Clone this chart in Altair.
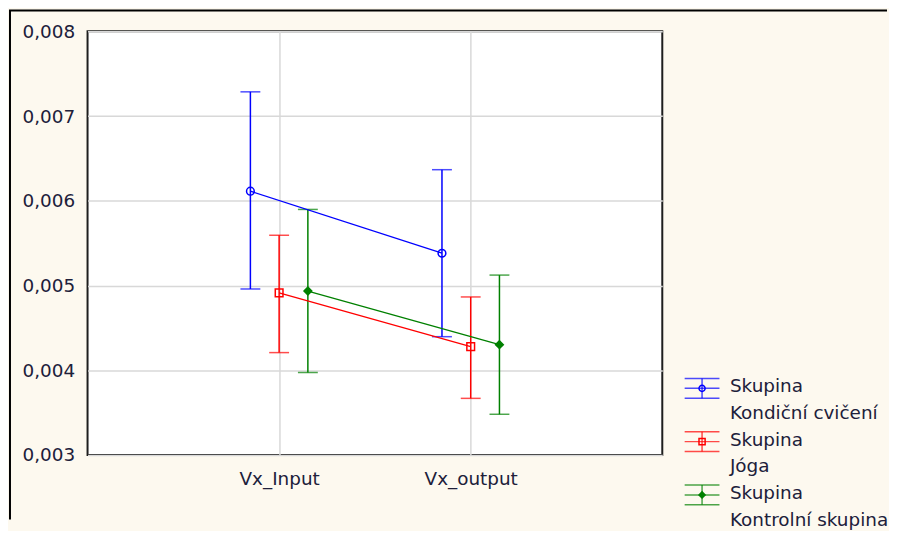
import altair as alt
import pandas as pd

# ---------------- data ----------------
categories = ["Vx_Input", "Vx_output"]
groups = ["Kondiční cvičení", "Jóga", "Kontrolní skupina"]
group_prefix = "Skupina"

mean_kond = [0.006113, 0.005381]
mean_joga = [0.004912, 0.004278]
mean_kontr = [0.004935, 0.004302]

low_kond = [0.004959, 0.004396]
low_joga = [0.004208, 0.003668]
low_kontr = [0.003973, 0.003480]

high_kond = [0.007286, 0.006367]
high_joga = [0.005593, 0.004865]
high_kontr = [0.005898, 0.005123]

y_ticks = [0.003, 0.004, 0.005, 0.006, 0.007, 0.008]

# ---------------- styles ----------------
colors = ["#0000ff", "#ff0000", "#008000"]
shapes = ["circle", "square", "diamond"]
fills = ["transparent", "transparent", "#008000"]
FONT = "DejaVu Sans"
TXT = "#20203a"
BG = "#fdf9ef"
W, H = 578, 426
GROUP_SHIFT = 0.15

means = [mean_kond, mean_joga, mean_kontr]
lows = [low_kond, low_joga, low_kontr]
highs = [high_kond, high_joga, high_kontr]

rows = []
for gi, g in enumerate(groups):
    for ci, c in enumerate(categories):
        rows.append({
            "group": g,
            "category": c,
            "xpos": (ci + 1) + (gi - 1) * GROUP_SHIFT,
            "mean": means[gi][ci],
            "low": lows[gi][ci],
            "high": highs[gi][ci],
        })
df = pd.DataFrame(rows)

label_expr = " : ".join(
    [f"datum.value == {i + 1} ? '{c}'" for i, c in enumerate(categories)]
) + " : ''"

xscale = alt.Scale(domain=[0, len(categories) + 1], nice=False, zero=False)
yscale = alt.Scale(domain=[y_ticks[0], y_ticks[-1]], nice=False, zero=False)
cscale = alt.Scale(domain=groups, range=colors)
sscale = alt.Scale(domain=groups, range=shapes)
fscale = alt.Scale(domain=groups, range=fills)

xaxis = alt.Axis(values=[i + 1 for i in range(len(categories))], labelExpr=label_expr,
                 title=None, grid=True, ticks=False, domain=False, labelPadding=15,
                 labelFontSize=18.5, labelFont=FONT, labelColor=TXT)
yaxis = alt.Axis(values=y_ticks, labelExpr="replace(format(datum.value, '.3f'), '.', ',')",
                 title=None, grid=True, ticks=False, domain=False, labelPadding=13,
                 labelFontSize=18.5, labelFont=FONT, labelColor=TXT, labelOverlap=False,
                 labelFlush=False)

base = alt.Chart(df).encode(
    x=alt.X("xpos:Q", scale=xscale, axis=xaxis),
    color=alt.Color("group:N", scale=cscale, legend=None),
)

stems = base.mark_rule(strokeWidth=1.5).encode(
    y=alt.Y("low:Q", scale=yscale, axis=yaxis), y2="high:Q")
caps_hi = base.mark_tick(orient="horizontal", size=20, thickness=1.5).encode(
    y=alt.Y("high:Q", scale=yscale))
caps_lo = base.mark_tick(orient="horizontal", size=20, thickness=1.5).encode(
    y=alt.Y("low:Q", scale=yscale))
lines = base.mark_line(strokeWidth=1.3).encode(
    y=alt.Y("mean:Q", scale=yscale), detail="group:N", order="xpos:Q")
points = base.mark_point(size=60, strokeWidth=1.5, opacity=1).encode(
    y=alt.Y("mean:Q", scale=yscale),
    shape=alt.Shape("group:N", scale=sscale, legend=None),
    fill=alt.Fill("group:N", scale=fscale, legend=None),
)

dummy = pd.DataFrame({"k": [0]})
LW = 226
border_left = alt.Chart(dummy).mark_rule(color="black", strokeWidth=2).encode(
    x=alt.value(-78), y=alt.value(-21), y2=alt.value(491))
border_top = alt.Chart(dummy).mark_rule(color="black", strokeWidth=2).encode(
    x=alt.value(-79), x2=alt.value(W + LW), y=alt.value(-21))

plot = alt.layer(border_left, border_top, stems, caps_hi, caps_lo, lines, points)

# ---------------- legend (drawn beside the plot area) ----------------
leg_text_rows = []
leg_sym_rows = []
for gi, g in enumerate(groups):
    leg_text_rows.append({"line": 2 * gi, "text": group_prefix})
    leg_text_rows.append({"line": 2 * gi + 1, "text": g})
    leg_sym_rows.append({"line": 2 * gi, "group": g})
leg_text = pd.DataFrame(leg_text_rows)
leg_sym = pd.DataFrame(leg_sym_rows)

lscale = alt.Scale(type="point", domain=list(range(2 * len(groups))), range=[357, 491], padding=0)
SX = W + 40

ltext = alt.Chart(leg_text).mark_text(align="left", baseline="middle", fontSize=18.5,
                                      font=FONT, color=TXT).encode(
    x=alt.value(W + 68), y=alt.Y("line:O", scale=lscale, axis=None), text="text:N")

lsym_base = alt.Chart(leg_sym).encode(
    x=alt.value(SX),
    y=alt.Y("line:O", scale=lscale, axis=None),
    color=alt.Color("group:N", scale=cscale, legend=None),
)
l_top = lsym_base.mark_tick(orient="horizontal", size=35, thickness=1.5, yOffset=-8)
l_mid = lsym_base.mark_tick(orient="horizontal", size=35, thickness=1.5, yOffset=2)
l_bot = lsym_base.mark_tick(orient="horizontal", size=35, thickness=1.5, yOffset=12)
l_stem = lsym_base.mark_tick(orient="vertical", size=20, thickness=1.5, yOffset=2)
l_pt = lsym_base.mark_point(size=38, strokeWidth=1.5, opacity=1, yOffset=2).encode(
    shape=alt.Shape("group:N", scale=sscale, legend=None),
    fill=alt.Fill("group:N", scale=fscale, legend=None),
)

legend = alt.layer(ltext, l_top, l_mid, l_bot, l_stem, l_pt)

chart = alt.layer(plot, legend).resolve_scale(
    y="independent"
).properties(
    width=W, height=H, padding=0, background=BG
).configure_view(
    fill="white", stroke="#1e1e1e", strokeWidth=2
).configure_axis(
    gridColor="#d8d8d8", gridWidth=1.5
)

chart.save("out.html", embed_options={"renderer": "svg", "actions": False})
